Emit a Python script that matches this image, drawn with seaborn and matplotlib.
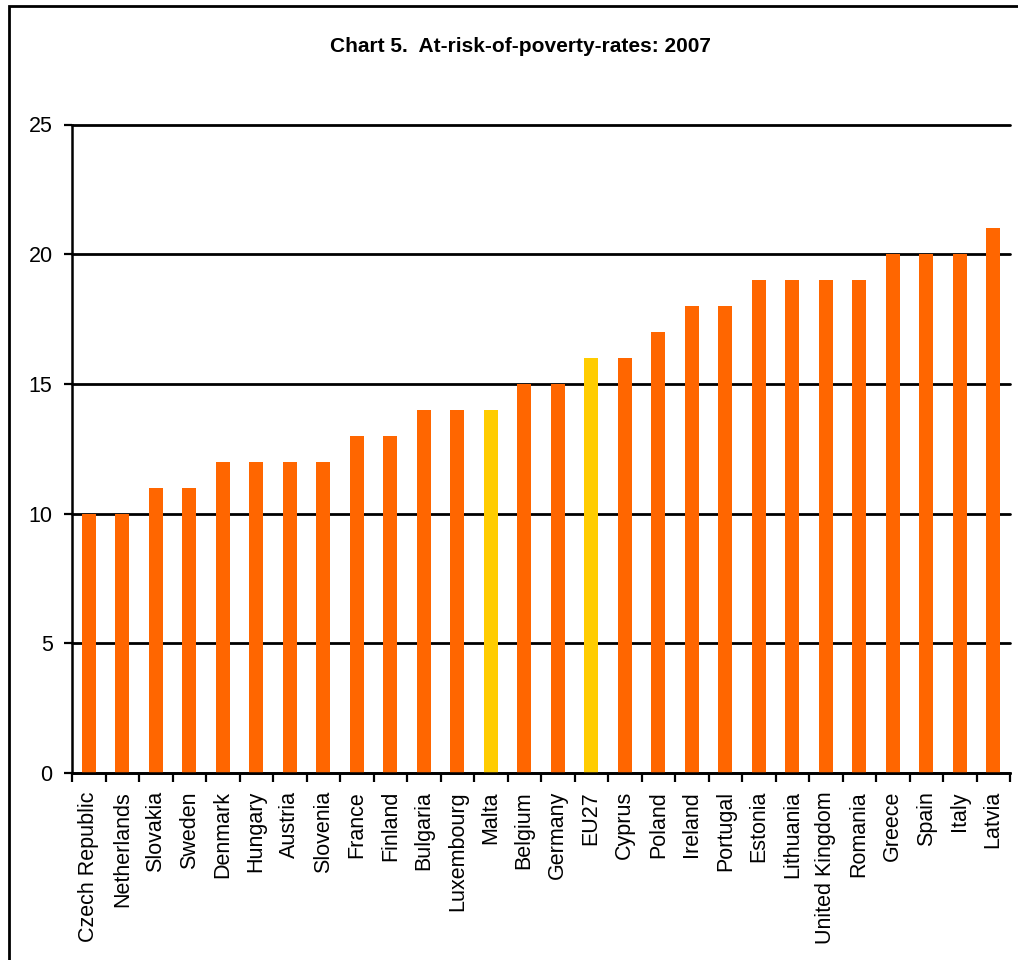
import matplotlib
matplotlib.use("Agg")
import matplotlib.pyplot as plt
import matplotlib.patches as mpatches
import seaborn as sns
import pandas as pd
import numpy as np

countries = ["Czech Republic", "Netherlands", "Slovakia", "Sweden", "Denmark",
             "Hungary", "Austria", "Slovenia", "France", "Finland", "Bulgaria",
             "Luxembourg", "Malta", "Belgium", "Germany", "EU27", "Cyprus",
             "Poland", "Ireland", "Portugal", "Estonia", "Lithuania",
             "United Kingdom", "Romania", "Greece", "Spain", "Italy", "Latvia"]
rates = [10, 10, 11, 11, 12, 12, 12, 12, 13, 13, 14, 14, 14, 15, 15, 16, 16,
         17, 18, 18, 19, 19, 19, 19, 20, 20, 20, 21]
highlighted = ["Malta", "EU27"]
y_ticks = [0, 5, 10, 15, 20, 25]

ORANGE = "#FF6600"
YELLOW = "#FFCC00"

sns.set_theme(style="white")
plt.rcParams["font.family"] = ["Liberation Sans", "DejaVu Sans"]
plt.rcParams["text.color"] = "black"
plt.rcParams["xtick.color"] = "black"
plt.rcParams["ytick.color"] = "black"

df = pd.DataFrame({"country": countries, "rate": rates})
palette = {c: (YELLOW if c in highlighted else ORANGE) for c in countries}

fig = plt.figure(figsize=(10.18, 9.6), dpi=100)
ax = fig.add_axes([72 / 1018, (960 - 773) / 960, 938 / 1018, 648.5 / 960])

sns.barplot(data=df, x="country", y="rate", hue="country", palette=palette,
            width=0.42, saturation=1, legend=False, ax=ax, zorder=3,
            linewidth=0, edgecolor="none")

ax.set_xlim(-0.5, len(countries) - 0.5)
ax.set_ylim(0, 25)
ax.set_yticks(y_ticks)
ax.set_xlabel("")
ax.set_ylabel("")

# horizontal black gridlines behind the bars
ax.set_axisbelow(True)
ax.yaxis.grid(True, color="black", linewidth=2.0)
ax.xaxis.grid(False)
for gl in ax.get_ygridlines():
    gl.set_clip_on(False)

for side in ["top", "right"]:
    ax.spines[side].set_visible(False)
for side in ["left", "bottom"]:
    ax.spines[side].set_color("black")
    ax.spines[side].set_linewidth(1.8)
    ax.spines[side].set_zorder(4)

# category labels at bar centres, tick marks at the category boundaries
ax.set_xticks(np.arange(len(countries)))
ax.set_xticklabels(countries, rotation=90, fontsize=15.5)
ax.set_xticks(np.arange(-0.5, len(countries)), minor=True)
ax.tick_params(axis="x", which="major", length=0, pad=13)
ax.tick_params(axis="x", which="minor", length=6.5, width=1.6, color="black",
               direction="out", bottom=True)
ax.tick_params(axis="y", which="major", length=6, width=1.6, color="black",
               direction="out", left=True, labelsize=15.5, pad=8)

fig.text(0.511, 1 - 47 / 960, "Chart 5.  At-risk-of-poverty-rates: 2007",
         ha="center", va="center", fontsize=15, fontweight="bold",
         color="black")

# chart frame
frame = mpatches.Rectangle((9 / 1018, -0.2), 1.5, 1.2 - 6 / 960,
                           transform=fig.transFigure, fill=False,
                           edgecolor="black", linewidth=2.0, clip_on=False)
fig.patches.append(frame)

fig.savefig("out.png", dpi=100, facecolor="white")
